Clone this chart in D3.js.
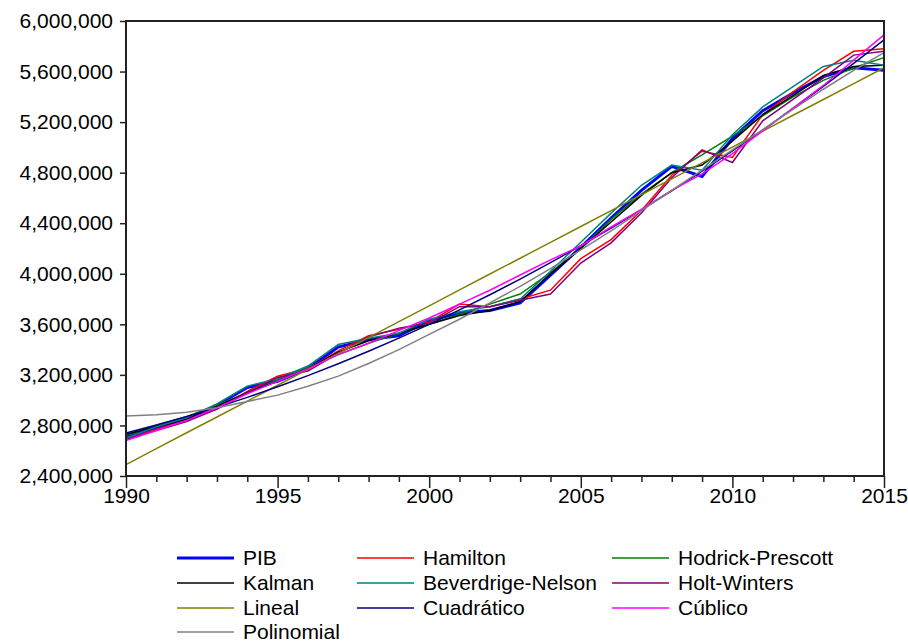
<!DOCTYPE html>
<html><head><meta charset="utf-8">
<script src="https://cdn.jsdelivr.net/npm/d3@7"></script>
<style>body{margin:0;background:#fff;} text{font-family:"Liberation Sans",Arial,sans-serif;}</style>
</head><body><svg id="c" width="908" height="643"></svg>
<script>
const years = d3.range(1990, 2016);
const PIB        = [2710,2780,2850,2960,3100,3150,3250,3420,3480,3510,3630,3690,3710,3770,3990,4210,4440,4660,4850,4770,5070,5290,5430,5560,5630,5610];
const Hamilton   = [2690,2770,2840,2930,3070,3190,3250,3390,3510,3560,3620,3760,3740,3800,3870,4120,4270,4500,4780,4970,4920,5260,5440,5610,5760,5780];
const HodrickPrescott = [2720,2800,2870,2960,3060,3160,3260,3360,3450,3530,3600,3680,3760,3840,4010,4200,4430,4630,4800,4940,5090,5250,5400,5530,5630,5710];
const Kalman     = [2730,2790,2850,2950,3060,3150,3250,3380,3470,3530,3600,3670,3710,3780,4000,4200,4410,4620,4800,4860,5050,5260,5410,5570,5640,5650];
const BeverdrigeNelson = [2700,2790,2860,2970,3110,3170,3270,3440,3490,3530,3640,3700,3740,3800,4020,4250,4480,4700,4860,4820,5100,5320,5480,5640,5690,5650];
const HoltWinters = [2690,2760,2830,2930,3060,3180,3230,3370,3500,3570,3610,3740,3740,3790,3840,4085,4245,4480,4760,4980,4880,5210,5380,5550,5730,5760];
const Lineal     = [2490,2616,2742,2867,2993,3118,3244,3370,3495,3621,3746,3872,3998,4123,4249,4374,4500,4626,4751,4877,5002,5128,5254,5379,5505,5630];
const Cuadratico = [2740,2803,2871,2944,3022,3106,3194,3288,3387,3491,3600,3714,3834,3958,4088,4222,4362,4507,4657,4812,4972,5137,5308,5483,5664,5850];
const Cublico    = [2680,2760,2840,2940,3050,3150,3250,3360,3450,3550,3650,3760,3870,3990,4110,4220,4370,4510,4660,4790,4950,5130,5310,5490,5690,5890];
const Polinomial = [2875,2885,2905,2940,2990,3040,3110,3190,3290,3400,3520,3640,3770,3900,4040,4190,4340,4500,4660,4820,4980,5140,5300,5460,5610,5750];

const seriesNames = ["PIB","Hamilton","Hodrick-Prescott","Kalman","Beverdrige-Nelson","Holt-Winters","Lineal","Cuadrático","Cúblico","Polinomial"];
const seriesData = [PIB,Hamilton,HodrickPrescott,Kalman,BeverdrigeNelson,HoltWinters,Lineal,Cuadratico,Cublico,Polinomial];
const seriesColors = ["#0000ff","#ff0000","#008000","#000000","#008080","#800080","#808000","#000080","#ff00ff","#808080"];
const seriesWidths = [3,1.5,1.5,1.5,1.5,1.5,1.5,1.5,1.5,1.5];
const yTicks = d3.range(2400000, 6000001, 400000);
const xMajor = [1990,1995,2000,2005,2010,2015];

const svg = d3.select("#c");
const L=126,R=884,T=21,B=476;
const FS = 21;
const x = d3.scaleLinear().domain([1990,2015]).range([L,R]);
const y = d3.scaleLinear().domain([2400000,6000000]).range([B,T]);

// y axis
const ya = svg.append("g").attr("transform",`translate(${L},0)`)
  .call(d3.axisLeft(y).tickValues(yTicks).tickSize(6).tickPadding(7).tickFormat(d3.format(",")));
ya.select(".domain").remove();
ya.selectAll("line").attr("stroke","#222").attr("stroke-width",1.5);
ya.selectAll("text").attr("font-size",FS).attr("fill","#000").attr("font-family","Liberation Sans, Arial, sans-serif");

// x axis
const xa = svg.append("g").attr("transform",`translate(0,${B})`)
  .call(d3.axisBottom(x).tickValues(years).tickSize(6).tickPadding(4).tickFormat(d=> xMajor.includes(d)? String(d):""));
xa.select(".domain").remove();
xa.selectAll(".tick line").attr("stroke","#222").attr("stroke-width",1.5).attr("y2",d=> xMajor.includes(d)?12:6);
xa.selectAll("text").attr("font-size",FS).attr("fill","#000").attr("y",12).attr("font-family","Liberation Sans, Arial, sans-serif");

// lines
const line = d3.line().x((d,i)=>x(years[i])).y(d=>y(d*1000));
seriesData.forEach((s,k)=>{
  svg.append("path").attr("d",line(s)).attr("fill","none")
    .attr("stroke",seriesColors[k]).attr("stroke-width",seriesWidths[k]).attr("stroke-linejoin","miter");
});

// frame
svg.append("rect").attr("x",L).attr("y",T).attr("width",R-L).attr("height",B-T)
  .attr("fill","none").attr("stroke","#222").attr("stroke-width",2);

// legend
const colX = [177,357,612];
const rowY = [558,583,608,632];
seriesNames.forEach((n,k)=>{
  const cx = colX[k%3], cy = rowY[Math.floor(k/3)];
  svg.append("line").attr("x1",cx).attr("x2",cx+57).attr("y1",cy).attr("y2",cy)
    .attr("stroke",seriesColors[k]).attr("stroke-width",seriesWidths[k]);
  svg.append("text").attr("x",cx+66).attr("y",cy).attr("dy","0.33em")
    .attr("font-size",FS).attr("fill","#000").text(n);
});
</script></body></html>
